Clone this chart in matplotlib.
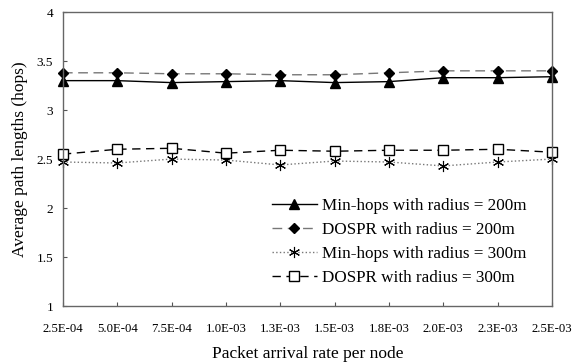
import matplotlib
matplotlib.use("Agg")
import matplotlib.pyplot as plt

# packet arrival rate per node (category labels)
rates = ['2.5E-04', '5.0E-04', '7.5E-04', '1.0E-03', '1.3E-03',
         '1.5E-03', '1.8E-03', '2.0E-03', '2.3E-03', '2.5E-03']

# average path lengths (hops)
minhops_200 = [3.30, 3.30, 3.28, 3.29, 3.30, 3.28, 3.29, 3.33, 3.33, 3.34]
dospr_200 = [3.38, 3.38, 3.37, 3.37, 3.36, 3.36, 3.38, 3.40, 3.40, 3.40]
minhops_300 = [2.47, 2.46, 2.50, 2.49, 2.44, 2.48, 2.47, 2.43, 2.47, 2.50]
dospr_300 = [2.55, 2.60, 2.61, 2.56, 2.59, 2.58, 2.59, 2.59, 2.60, 2.57]

plt.rcParams['font.family'] = ['Liberation Serif', 'DejaVu Serif']

fig = plt.figure(figsize=(5.72, 3.64), dpi=100)
ax = fig.add_axes([0.110, 0.159, 0.855, 0.808])

x = list(range(len(rates)))

ax.plot(x, minhops_200, '-', color='black', lw=1.0, marker='^', ms=7.5,
        mfc='black', mec='black', label='Min-hops with radius = 200m', clip_on=False)
ax.plot(x, dospr_200, color='#777777', lw=1.0, dashes=(7, 4), marker='D', ms=5,
        mfc='black', mec='black', label='DOSPR with radius = 200m', clip_on=False)
# asterisk-like marker: X with a vertical bar
ax.plot(x, minhops_300, ':', color='#777777', lw=1.0, marker=(6, 2, 0), ms=8,
        mfc='black', mec='black', mew=0.8, label='Min-hops with radius = 300m', clip_on=False)
ax.plot(x, dospr_300, color='black', lw=1.0, dashes=(6, 4), marker='s', ms=7,
        mfc='white', mec='black', label='DOSPR with radius = 300m', clip_on=False)

ax.set_xlim(0, len(rates) - 1)
ax.set_ylim(1, 4)
ax.set_xticks(x)
ax.set_xticklabels(rates, fontsize=9.2)
ax.set_yticks([1, 1.5, 2, 2.5, 3, 3.5, 4])
ax.set_yticklabels(['1', '1.5', '2', '2.5', '3', '3.5', '4'], fontsize=9.5)
ax.tick_params(direction='in', length=3, color='#555555')
ax.tick_params(axis='x', pad=12)
ax.tick_params(axis='y', pad=7)

for s in ax.spines.values():
    s.set_color('#666666')
    s.set_linewidth(1.0)

ax.set_xlabel('Packet arrival rate per node', fontsize=12.5, labelpad=8)
ax.set_ylabel('Average path lengths (hops)', fontsize=12.5, labelpad=6)

ax.legend(loc='center left', bbox_to_anchor=(0.427, 0.218), frameon=False,
          fontsize=12.3, handlelength=2.65, handletextpad=0.3, labelspacing=0.48,
          borderpad=0, borderaxespad=0)

fig.savefig('out.png', dpi=100)
